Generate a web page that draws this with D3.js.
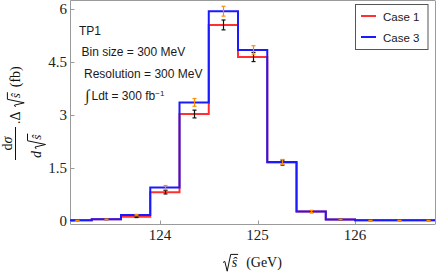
<!DOCTYPE html>
<html><head><meta charset="utf-8">
<script src="https://cdn.jsdelivr.net/npm/d3@7"></script>
<style>body{margin:0;background:#fff} svg{display:block}</style>
</head><body>
<script>
// ---- data ----
const binStarts = [123.0,123.3,123.6,123.9,124.2,124.5,124.8,125.1,125.4,125.7,126.0,126.3,126.6];
const binWidth = 0.3;
const case1 = [0.01,0.04,0.11,0.81,3.03,5.56,4.65,1.65,0.26,0.035,0.01,0.01,0.01];
const case3 = [0.01,0.04,0.16,0.94,3.36,5.95,4.85,1.67,0.26,0.035,0.01,0.01,0.01];
const case1Err = [0.005,0.01,0.02,0.05,0.11,0.14,0.13,0.07,0.03,0.01,0.005,0.005,0.005];
const case3Err = [0.005,0.01,0.02,0.06,0.11,0.14,0.12,0.07,0.03,0.01,0.005,0.005,0.005];
const xTicks = [124,125,126];
const yTicks = [0,1.5,3,4.5,6];
const yTickLabels = ["0","1.5","3","4.5","6"];
const seriesNames = ["Case 1","Case 3"];
const annotations = ["TP1","Bin size = 300 MeV","Resolution = 300 MeV"];

const W = 436, H = 274;
const svg = d3.select("body").append("svg").attr("width",W).attr("height",H)
  .style("font-family","'Liberation Sans', Arial, sans-serif");

const x = d3.scaleLinear().domain([123.077,126.82]).range([70,435]);
const y = d3.scaleLinear().domain([-0.113,6.24]).range([224.7,1]);

const serif = "'Liberation Serif','Times New Roman',serif";
const frameCol = "#9a9a9a";

svg.append("clipPath").attr("id","clip").append("rect")
  .attr("x",70).attr("y",0).attr("width",365).attr("height",225);

// frame
const fr = svg.append("g").attr("stroke",frameCol).attr("fill","none").attr("stroke-width",1);
fr.append("line").attr("x1",70.5).attr("x2",70.5).attr("y1",0.5).attr("y2",224.5);
fr.append("line").attr("x1",70.5).attr("x2",435).attr("y1",224.5).attr("y2",224.5);
fr.append("line").attr("x1",70.5).attr("x2",435).attr("y1",0.5).attr("y2",0.5);
fr.append("line").attr("x1",435.5).attr("x2",435.5).attr("y1",0.5).attr("y2",224.5);

// ticks
xTicks.forEach(t=>{
  const px = Math.round(x(t))+0.5;
  fr.append("line").attr("x1",px).attr("x2",px).attr("y1",224.5).attr("y2",220.5);
  svg.append("text").attr("x",x(t)).attr("y",240).attr("text-anchor","middle")
    .style("font-family",serif).style("font-size","15px").attr("fill","#222").text(t);
});
yTicks.forEach((t,i)=>{
  const py = Math.round(y(t))+0.5;
  fr.append("line").attr("x1",70.5).attr("x2",74.5).attr("y1",py).attr("y2",py);
  svg.append("text").attr("x",67).attr("y",y(t)+5).attr("text-anchor","end")
    .style("font-family",serif).style("font-size","15px").attr("fill","#222").text(yTickLabels[i]);
});

// step lines
function stepPts(vals){
  const pts = binStarts.map((b,i)=>[b,vals[i]]);
  pts.push([binStarts[binStarts.length-1]+binWidth, vals[vals.length-1]]);
  return pts;
}
const line = d3.line().x(d=>x(d[0])).y(d=>y(d[1])).curve(d3.curveStepAfter);
const plot = svg.append("g").attr("clip-path","url(#clip)");
plot.append("path").attr("d",line(stepPts(case1))).attr("fill","none")
  .attr("stroke","#ff3030").attr("stroke-width",2);
plot.append("path").attr("d",line(stepPts(case3))).attr("fill","none")
  .attr("stroke","#1a1aff").attr("stroke-width",2);

// error bars
function errBars(vals, errs, col){
  binStarts.forEach((b,i)=>{
    const cx = Math.round(x(b+binWidth/2))+0.5;
    const y1 = y(vals[i]-errs[i]), y2 = y(vals[i]+errs[i]);
    const g = plot.append("g").attr("stroke",col).attr("stroke-width",1.2);
    g.append("line").attr("x1",cx).attr("x2",cx).attr("y1",y1).attr("y2",y2);
    g.append("line").attr("x1",cx-2).attr("x2",cx+2).attr("y1",y1).attr("y2",y1);
    g.append("line").attr("x1",cx-2).attr("x2",cx+2).attr("y1",y2).attr("y2",y2);
  });
}
errBars(case1, case1Err, "#111");
errBars(case3, case3Err, "#ff8c00");

// annotations
const ann = svg.append("g").style("font-size","12px").attr("fill","#1a1a1a");
ann.append("text").attr("x",79).attr("y",34.5).text(annotations[0]);
ann.append("text").attr("x",81.5).attr("y",56).text(annotations[1]);
ann.append("text").attr("x",84).attr("y",77.5).text(annotations[2]);
ann.append("text").attr("x",85).attr("y",101).style("font-size","16px")
  .style("font-family",serif).text("∫");
const lt = ann.append("text").attr("x",91.5).attr("y",100);
lt.append("tspan").text("Ldt = 300 fb");
lt.append("tspan").attr("dy",-4.5).style("font-size","8px").text("−1");

// legend
const lg = svg.append("g");
lg.append("rect").attr("x",355.5).attr("y",4.5).attr("width",72.5).attr("height",45)
  .attr("fill","#fff").attr("stroke","#555").attr("stroke-width",1);
const lcols = ["#ff3030","#1a1aff"];
seriesNames.forEach((n,i)=>{
  const yy = 16 + i*21;
  lg.append("line").attr("x1",361).attr("x2",376).attr("y1",yy).attr("y2",yy)
    .attr("stroke",lcols[i]).attr("stroke-width",2);
  lg.append("text").attr("x",383).attr("y",yy+4.5).style("font-size","11.5px")
    .attr("fill","#1a1a1a").text(n);
});

// radical helper: draws √content at (x0, base) in group g; returns end x
function radical(g, x0, base, s, content, fs){
  const t = g.append("text").attr("x", x0 + 0.62*s).attr("y", base)
    .style("font-family",serif).style("font-size",fs+"px").style("font-style","italic")
    .attr("fill","#111").text(content);
  const w = t.node().getComputedTextLength();
  const xs = x0 + 0.55*s, top = base - 0.9*s;
  g.append("path").attr("d",
    `M${x0},${base-0.32*s} L${x0+0.13*s},${base-0.4*s} L${x0+0.3*s},${base+0.3*s} L${xs},${top} H${x0+0.62*s+w+1}`)
    .attr("fill","none").attr("stroke","#111").attr("stroke-width",1);
  return x0 + 0.62*s + w;
}

// x label
const xl = svg.append("g");
let ex = radical(xl, 223, 267, 14, "ŝ", 14);
xl.append("text").attr("x",ex+9).attr("y",267).style("font-family",serif)
  .style("font-size","14px").attr("fill","#111").text("(GeV)");

// y label (rotated)
const yl = svg.append("g").attr("transform","translate(0,160) rotate(-90)");
// fraction
yl.append("line").attr("x1",0).attr("x2",33).attr("y1",15.5).attr("y2",15.5)
  .attr("stroke","#111").attr("stroke-width",1);
const num = yl.append("text").attr("x",16.5).attr("y",12).attr("text-anchor","middle")
  .style("font-family",serif).style("font-size","14px").attr("fill","#111");
num.append("tspan").text("d");
num.append("tspan").style("font-style","italic").text("σ");
yl.append("text").attr("x",2).attr("y",41).style("font-family",serif)
  .style("font-size","14px").style("font-style","italic").attr("fill","#111").text("d");
radical(yl, 11, 41, 15, "ŝ", 13);
// trailing
yl.append("text").attr("x",36).attr("y",20).style("font-family",serif)
  .style("font-size","14px").attr("fill","#111").text(".Δ");
ex = radical(yl, 53, 20, 14, "ŝ", 13);
yl.append("text").attr("x",ex+6).attr("y",20).style("font-family",serif)
  .style("font-size","14px").attr("fill","#111").text("(fb)");
</script>
</body></html>
